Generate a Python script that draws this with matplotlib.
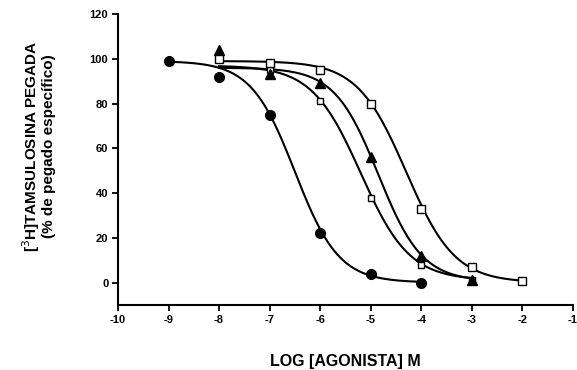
import numpy as np
import matplotlib
matplotlib.use("Agg")
import matplotlib.pyplot as plt

plt.rcParams['font.family'] = ['Liberation Sans', 'DejaVu Sans']
plt.rcParams['axes.unicode_minus'] = False

# measured points (log M, % specific binding)
circ_x = [-9, -8, -7, -6, -5, -4]
circ_y = [99, 92, 75, 22, 4, 0]
tri_x = [-8, -7, -6, -5, -4, -3]
tri_y = [104, 93, 89, 56, 12, 1]
open_x = [-8, -7, -6, -5, -4, -3]
open_y = [100, 95, 81, 38, 8, 1]
sq_x = [-8, -7, -6, -5, -4, -3, -2]
sq_y = [100, 98, 95, 80, 33, 7, 0.5]

# fitted sigmoid parameters: top, bottom, logIC50, hill slope
circ_fit = [99, 0, -6.5, 1.0]
tri_fit = [96, 0.5, -4.85, 1.0]
open_fit = [97, 1, -5.2, 0.9]
sq_fit = [99, 0, -4.3, 0.9]


def sigmoid(x, p):
    top, bottom, c, h = p
    return bottom + (top - bottom) / (1 + 10 ** ((x - c) * h))


fig = plt.figure(figsize=(5.77, 3.70), dpi=100)
ax = fig.add_axes([0.2045, 0.176, 0.7885, 0.786])

series = [
    (circ_x, circ_y, circ_fit, dict(marker='o', mfc='black', ms=7)),
    (open_x, open_y, open_fit, dict(marker='s', mfc='white', ms=5)),
    (tri_x, tri_y, tri_fit, dict(marker='^', mfc='black', ms=6.5)),
    (sq_x, sq_y, sq_fit, dict(marker='s', mfc='white', ms=5.5)),
]
for xs, ys, fit, style in series:
    xx = np.linspace(xs[0], xs[-1], 200)
    ax.plot(xx, sigmoid(xx, fit), color='black', lw=1.5, zorder=2)
    ax.plot(xs, ys, ls='none', mec='black', mew=1.0, zorder=3, **style)

ax.set_xlim(-10, -1)
ax.set_ylim(-10, 120)
ax.set_xticks(range(-10, 0))
ax.set_xticklabels([str(v) for v in range(-10, 0)])
ax.set_yticks(range(0, 121, 20))
for s in ['top', 'right']:
    ax.spines[s].set_visible(False)
for s in ['left', 'bottom']:
    ax.spines[s].set_linewidth(1.5)
ax.tick_params(direction='out', length=4, width=1.3, labelsize=8, pad=3)
for lab in ax.get_xticklabels() + ax.get_yticklabels():
    lab.set_fontweight('bold')

ax.set_xlabel("LOG [AGONISTA] M", fontsize=11.5, fontweight='bold', labelpad=21)
ax.set_ylabel("[$^3$H]TAMSULOSINA PEGADA\n(% de pegado específico)",
              fontsize=11, fontweight='bold', linespacing=1.0)
ax.yaxis.set_label_coords(-0.137, 0.545)

fig.savefig("out.png", dpi=100)
